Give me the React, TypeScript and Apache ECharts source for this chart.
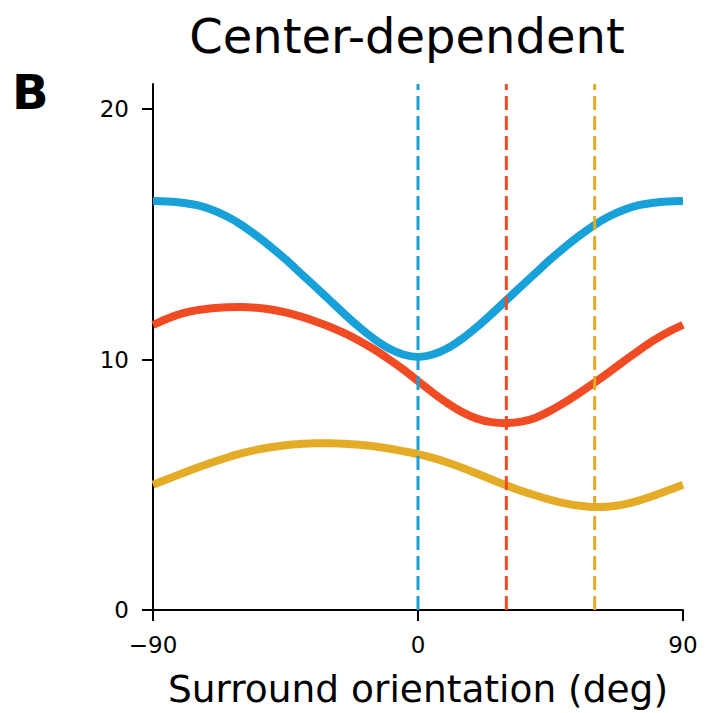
import React, { useEffect, useRef } from "react";
import * as echarts from "echarts";

const orientations = [-90, -85, -80, -75, -70, -65, -60, -55, -50, -45, -40, -35, -30, -25, -20, -15, -10, -5, 0, 5, 10, 15, 20, 25, 30, 35, 40, 45, 50, 55, 60, 65, 70, 75, 80, 85, 90];
const blueValues = [16.33, 16.31, 16.26, 16.16, 15.98, 15.72, 15.38, 14.96, 14.5, 14.0, 13.46, 12.92, 12.37, 11.82, 11.3, 10.83, 10.45, 10.2, 10.1, 10.2, 10.45, 10.83, 11.3, 11.82, 12.37, 12.92, 13.46, 14.0, 14.5, 14.96, 15.38, 15.72, 15.98, 16.16, 16.26, 16.31, 16.33];
const redValues = [11.38, 11.64, 11.84, 11.97, 12.05, 12.09, 12.1, 12.07, 12.0, 11.88, 11.72, 11.53, 11.31, 11.05, 10.75, 10.41, 10.02, 9.6, 9.14, 8.68, 8.26, 7.9, 7.64, 7.5, 7.46, 7.52, 7.68, 7.96, 8.3, 8.68, 9.08, 9.5, 9.94, 10.36, 10.76, 11.1, 11.38];
const yellowValues = [5.0, 5.23, 5.46, 5.68, 5.89, 6.08, 6.25, 6.39, 6.5, 6.58, 6.63, 6.66, 6.66, 6.64, 6.6, 6.54, 6.45, 6.34, 6.22, 6.07, 5.89, 5.68, 5.45, 5.21, 4.98, 4.76, 4.57, 4.4, 4.26, 4.16, 4.11, 4.13, 4.22, 4.37, 4.56, 4.78, 5.0];
const preferredCenters = [0, 30, 60];
const seriesColors = ["#18a0d8", "#f14b24", "#e4ab26"];
const xTicks = [-90, 0, 90];
const yTicks = [0, 10, 20];
const yMax = 21;

const FONT = "DejaVu Sans";

export default function App() {
  const ref = useRef<HTMLDivElement>(null);
  useEffect(() => {
    if (!ref.current) return;
    const chart = echarts.init(ref.current, null, { renderer: "svg" });
    const curves = [blueValues, redValues, yellowValues].map((vals, i) => ({
      type: "line",
      data: orientations.map((x, j) => [x, vals[j]]),
      smooth: 0.3,
      showSymbol: false,
      symbol: "none",
      lineStyle: { color: seriesColors[i], width: 8, cap: "butt", join: "round" },
      z: 2,
    }));
    const dashed = preferredCenters.map((c, i) => ({
      type: "line",
      data: [[c, 0], [c, yMax]],
      showSymbol: false,
      symbol: "none",
      lineStyle: { color: seriesColors[i], width: 3, type: [14, 6] },
      z: 3,
    }));
    chart.setOption({
      animation: false,
      backgroundColor: "#ffffff",
      textStyle: { fontFamily: FONT },
      title: {
        text: "Center-dependent",
        left: 402,
        top: 7,
        textAlign: "center",
        textStyle: { fontFamily: FONT, fontSize: 48, fontWeight: "normal", color: "#000" },
      },
      graphic: [
        {
          type: "text",
          left: 12,
          top: 68,
          style: { text: "B", font: `bold 48px "${FONT}"`, fill: "#000" },
        },
      ],
      grid: { left: 153, right: 33, top: 84, bottom: 100, containLabel: false },
      xAxis: {
        type: "value",
        min: -90,
        max: 90,
        interval: 90,
        name: "Surround orientation (deg)",
        nameLocation: "middle",
        nameGap: 60,
        nameTextStyle: { fontFamily: FONT, fontSize: 37.5, color: "#000" },
        axisLine: { onZero: false, lineStyle: { color: "#000", width: 2 } },
        axisTick: { show: true, length: 11, lineStyle: { color: "#000", width: 2 }, customValues: xTicks },
        axisLabel: {
          fontFamily: FONT,
          fontSize: 23,
          color: "#000",
          margin: 23,
          customValues: xTicks,
          formatter: (v: number) => (v < 0 ? "\u2212" + Math.abs(v) : String(v)),
        },
        splitLine: { show: false },
      },
      yAxis: {
        type: "value",
        min: 0,
        max: yMax,
        interval: 10,
        axisLine: { show: true, onZero: false, lineStyle: { color: "#000", width: 2 } },
        axisTick: { show: true, length: 11, lineStyle: { color: "#000", width: 2 }, customValues: yTicks },
        axisLabel: { fontFamily: FONT, fontSize: 23, color: "#000", margin: 24, customValues: yTicks },
        splitLine: { show: false },
      },
      series: [...curves, ...dashed],
    });
    return () => chart.dispose();
  }, []);
  return <div ref={ref} style={{ width: 716, height: 713, position: "absolute", left: 0, top: 0 }} />;
}
